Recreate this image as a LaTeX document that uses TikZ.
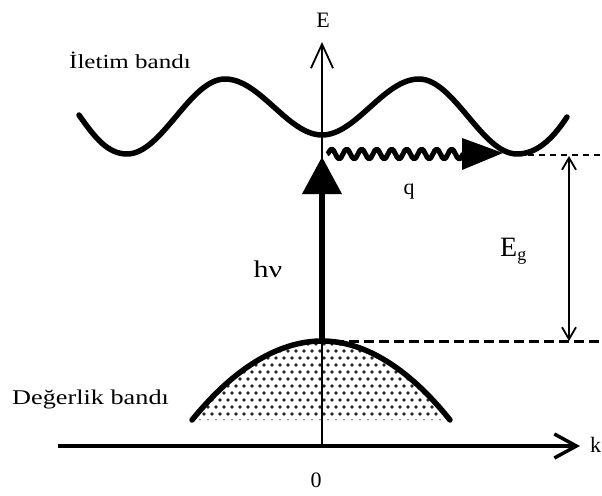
\documentclass[tikz,border=0pt]{standalone}
\usepackage{fontspec}
\setmainfont{Liberation Serif}
\newfontfamily\widefont[FakeStretch=1.25]{Liberation Serif}
\usetikzlibrary{arrows.meta,decorations.pathmorphing}
\begin{document}
\begin{tikzpicture}[x=1pt,y=-1pt,
  band/.style={line width=5.5pt, line cap=round, line join=round},
  thinaxis/.style={line width=1.8pt},
  lbl/.style={inner sep=0pt, anchor=base},
]
\useasboundingbox (0,0) rectangle (602,495);

% coordinates
\coordinate (O) at (322,446);
\coordinate (Etop) at (322,42);
\coordinate (kL) at (58,446);
\coordinate (kR) at (580,446);
\coordinate (VBtop) at (322,341);
\coordinate (VBl) at (192,420);
\coordinate (VBr) at (450,420);
\coordinate (CBmin) at (517,155);
\coordinate (EgTop) at (569,156);
\coordinate (EgBot) at (569,341);

% valence band dots
\begin{scope}
  \clip (VBl) parabola bend (VBtop) (VBr) -- cycle;
  \foreach \r [evaluate=\r as \off using {mod(\r,2)*4}] in {0,...,12} {
    \foreach \c in {0,...,34} {
      \fill[black!85] (188+\c*8+\off, 344+\r*7) circle[radius=1.9];
    }
  }
\end{scope}

% axes
\draw[thinaxis, -{Straight Barb[length=24pt,width=22pt]}] (O) -- (Etop);
\draw[line width=3.5pt, -{Straight Barb[length=22pt,width=24pt]}] (kL) -- (kR);

% conduction band
\draw[band] (79,115) .. controls (95,138) and (108,154) .. (127,154)
  .. controls (162,154) and (190,79) .. (225,79)
  .. controls (260,79) and (288,135) .. (322,135)
  .. controls (356,135) and (384,79) .. (419,79)
  .. controls (454,79) and (482,154) .. (517,154)
  .. controls (536,154) and (552,140) .. (567,117);

% valence band border
\draw[band] (VBl) parabola bend (VBtop) (VBr);

% dashed levels
\draw[line width=1.5pt, dash pattern=on 6pt off 5pt] (CBmin) -- (602,155);
\draw[line width=3pt, dash pattern=on 10pt off 5pt] (334,341) -- (602,341);

% photon arrow
\draw[line width=6pt] (VBtop) -- (322,190);
\fill (302,194) -- (322,157) -- (342,194) -- cycle;

% phonon wavy arrow
\draw[line width=5pt, line join=round, decorate, decoration={snake, segment length=15pt, amplitude=5pt}] (327,154) -- (468,154);
\fill (462,138) -- (503,153) -- (462,170) -- cycle;

% Eg arrow
\draw[line width=1.8pt, {Straight Barb[length=12pt,width=14pt]}-{Straight Barb[length=12pt,width=14pt]}] (EgTop) -- (EgBot);

% labels
\node[lbl, anchor=base west, font=\widefont\fontsize{20}{24}\selectfont] (cb) at (69,68) {İletim bandı};
\node[lbl, anchor=base west, font=\widefont\fontsize{21}{24}\selectfont] (vb) at (12,404) {Değerlik bandı};
\node[lbl, font=\fontsize{22}{24}\selectfont] (E) at (323,28) {E};
\node[lbl, font=\fontsize{22}{24}\selectfont] (q) at (409,194) {q};
\node[lbl, font=\widefont\fontsize{24}{26}\selectfont] (hn) at (268,277) {hν};
\node[lbl, font=\fontsize{22}{24}\selectfont] (zero) at (316,487) {0};
\node[lbl, anchor=base west, font=\fontsize{22}{24}\selectfont] (k) at (590,452) {k};
\node[lbl, anchor=base west] (Eg) at (500,256) {\fontsize{28}{30}\selectfont E\raisebox{-4pt}{\fontsize{18}{20}\selectfont g}};
\end{tikzpicture}
\end{document}
